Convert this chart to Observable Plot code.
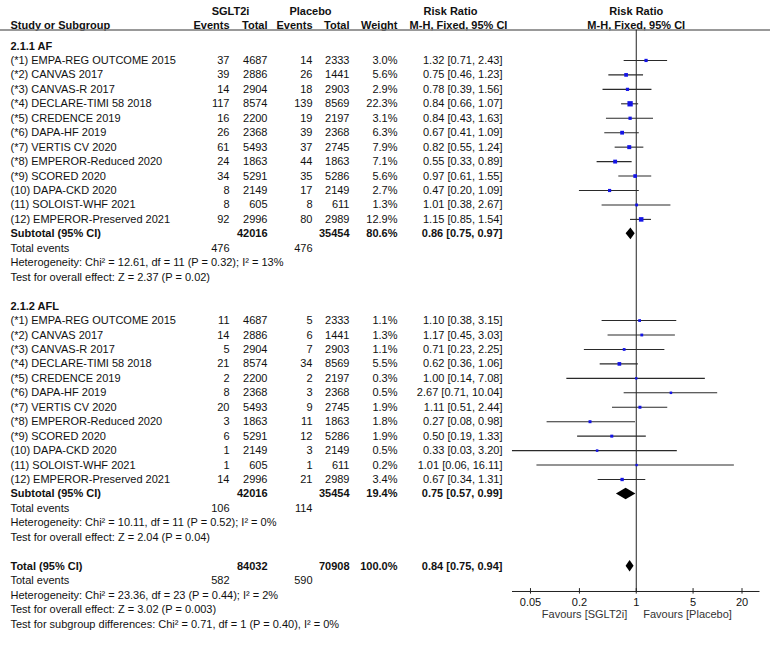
<!DOCTYPE html>
<html><head><meta charset="utf-8">
<script src="https://cdn.jsdelivr.net/npm/d3@7"></script>
<script src="https://cdn.jsdelivr.net/npm/@observablehq/plot@0.6"></script>
<style>body{margin:0;background:#fff} #chart svg{display:block}</style>
</head><body><div id="chart"></div>
<script>
// ---------- data ----------
const studyNames = ["(*1) EMPA-REG OUTCOME 2015","(*2) CANVAS 2017","(*3) CANVAS-R 2017","(*4) DECLARE-TIMI 58 2018","(*5) CREDENCE 2019","(*6) DAPA-HF 2019","(*7) VERTIS CV 2020","(*8) EMPEROR-Reduced 2020","(*9) SCORED 2020","(10) DAPA-CKD 2020","(11) SOLOIST-WHF 2021","(12) EMPEROR-Preserved 2021"];
const sgltTotals = [4687,2886,2904,8574,2200,2368,5493,1863,5291,2149,605,2996];
const placeboTotals = [2333,1441,2903,8569,2197,2368,2745,1863,5286,2149,611,2989];

const afSgltEvents = [37,39,14,117,16,26,61,24,34,8,8,92];
const afPlaceboEvents = [14,26,18,139,19,39,37,44,35,17,8,80];
const afWeights = [3.0,5.6,2.9,22.3,3.1,6.3,7.9,7.1,5.6,2.7,1.3,12.9];
const afRR = [1.32,0.75,0.78,0.84,0.84,0.67,0.82,0.55,0.97,0.47,1.01,1.15];
const afLo = [0.71,0.46,0.39,0.66,0.43,0.41,0.55,0.33,0.61,0.20,0.38,0.85];
const afHi = [2.43,1.23,1.56,1.07,1.63,1.09,1.24,0.89,1.55,1.09,2.67,1.54];

const aflSgltEvents = [11,14,5,21,2,8,20,3,6,1,1,14];
const aflPlaceboEvents = [5,6,7,34,2,3,9,11,12,3,1,21];
const aflWeights = [1.1,1.3,1.1,5.5,0.3,0.5,1.9,1.8,1.9,0.5,0.2,3.4];
const aflRR = [1.10,1.17,0.71,0.62,1.00,2.67,1.11,0.27,0.50,0.33,1.01,0.67];
const aflLo = [0.38,0.45,0.23,0.36,0.14,0.71,0.51,0.08,0.19,0.03,0.06,0.34];
const aflHi = [3.15,3.03,2.25,1.06,7.08,10.04,2.44,0.98,1.33,3.20,16.11,1.31];

const summaryLabels = ["Subtotal (95% CI)","Subtotal (95% CI)","Total (95% CI)"];
const summarySgltTotals = [42016,42016,84032];
const summaryPlaceboTotals = [35454,35454,70908];
const summaryWeights = [80.6,19.4,100.0];
const summaryRR = [0.86,0.75,0.84];
const summaryLo = [0.75,0.57,0.75];
const summaryHi = [0.97,0.99,0.94];
const totalEventsSglt = [476,106,582];
const totalEventsPlacebo = [476,114,590];

const groupTitles = ["2.1.1 AF","2.1.2 AFL"];
const heterogeneityTexts = [
  "Heterogeneity: Chi\u00B2 = 12.61, df = 11 (P = 0.32); I\u00B2 = 13%",
  "Heterogeneity: Chi\u00B2 = 10.11, df = 11 (P = 0.52); I\u00B2 = 0%",
  "Heterogeneity: Chi\u00B2 = 23.36, df = 23 (P = 0.44); I\u00B2 = 2%"];
const overallEffectTexts = [
  "Test for overall effect: Z = 2.37 (P = 0.02)",
  "Test for overall effect: Z = 2.04 (P = 0.04)",
  "Test for overall effect: Z = 3.02 (P = 0.003)"];
const subgroupDiffText = "Test for subgroup differences: Chi\u00B2 = 0.71, df = 1 (P = 0.40), I\u00B2 = 0%";
const axisTicks = [0.05, 0.2, 1, 5, 20];
const favoursLeft = "Favours [SGLT2i]";
const favoursRight = "Favours [Placebo]";

// ---------- layout (row indices and column anchors) ----------
const groupStart = [0, 18];       // heading row of each subgroup
const summaryRow = [13, 31, 36];
const col = {study: 10, sEv: 229, sTot: 267, pEv: 312, pTot: 349, w: 397, rr: 502};

// ---------- build tables ----------
const fmtW = w => w.toFixed(1) + "%";
const fmtRR = (e, l, h) => `${e.toFixed(2)} [${l.toFixed(2)}, ${h.toFixed(2)}]`;
function studies(g, sEv, pEv, w, rr, lo, hi) {
  return studyNames.map((name, i) => ({
    r: groupStart[g] + 1 + i, name, sEv: sEv[i], sTot: sgltTotals[i], pEv: pEv[i], pTot: placeboTotals[i],
    w: w[i], rr: rr[i], lo: lo[i], hi: hi[i]
  }));
}
const studyRows = [
  ...studies(0, afSgltEvents, afPlaceboEvents, afWeights, afRR, afLo, afHi),
  ...studies(1, aflSgltEvents, aflPlaceboEvents, aflWeights, aflRR, aflLo, aflHi)
];
const summaries = summaryLabels.map((label, i) => ({
  r: summaryRow[i], label, sTot: summarySgltTotals[i], pTot: summaryPlaceboTotals[i],
  w: summaryWeights[i], rr: summaryRR[i], lo: summaryLo[i], hi: summaryHi[i],
  sEvT: totalEventsSglt[i], pEvT: totalEventsPlacebo[i]
}));
const statLines = [];
summaries.forEach((s, i) => {
  statLines.push({r: s.r + 1, text: "Total events"});
  statLines.push({r: s.r + 2, text: heterogeneityTexts[i]});
  statLines.push({r: s.r + 3, text: overallEffectTexts[i]});
});
statLines.push({r: summaryRow[2] + 4, text: subgroupDiffText});
const headings = groupTitles.map((t, i) => ({r: groupStart[i], text: t}));

const diamondH = 0.4;
const diamondPts = summaries.flatMap((s, i) => [
  {id: i, x: s.lo, y1: s.r, y2: s.r},
  {id: i, x: s.rr, y1: s.r - diamondH, y2: s.r + diamondH},
  {id: i, x: s.hi, y1: s.r, y2: s.r}
]);

// ---------- plot ----------
const FONT = "'Liberation Sans', Arial, Helvetica, sans-serif";
const ink = "#111";
const xDomain = [1 / 33.3, 33.3];
const yHeaderLine = -1.1, yAxis = 37.75;
const str = k => d => String(d[k]);

function column(data, key, x, anchor, opts = {}) {
  return Plot.text(data, {y: "r", text: typeof key === "string" ? str(key) : key, frameAnchor: "left", dx: x,
    textAnchor: anchor, fill: ink, fontSize: 11, ...opts});
}
function label(t, y, x, anchor) {
  return Plot.text([t], {y, frameAnchor: "left", dx: x, textAnchor: anchor, fontWeight: "bold", fill: ink, fontSize: 11});
}

const chart = Plot.plot({
  width: 770, height: 651,
  marginLeft: 0, marginRight: 0, marginTop: 0, marginBottom: 0,
  style: {fontFamily: FONT, fontSize: "11px", background: "#fff", color: ink},
  x: {type: "log", domain: xDomain, range: [512, 759.5], axis: null},
  y: {domain: [0, 40], range: [45.5, 623.5], axis: null},
  r: {type: "sqrt", domain: [0, 22.3], range: [1.15, 3]},
  marks: [
    // header
    label("SGLT2i", -2.42, 230, "middle"),
    label("Placebo", -2.42, 310, "middle"),
    label("Risk Ratio", -2.42, 450, "middle"),
    Plot.text(["Risk Ratio"], {y: -2.42, x: 1, textAnchor: "middle", fontWeight: "bold", fill: ink, fontSize: 11}),
    label("Study or Subgroup", -1.42, col.study, "start"),
    label("Events", -1.42, col.sEv, "end"),
    label("Total", -1.42, col.sTot, "end"),
    label("Events", -1.42, col.pEv, "end"),
    label("Total", -1.42, col.pTot, "end"),
    label("Weight", -1.42, col.w, "end"),
    label("M-H, Fixed, 95% CI", -1.42, 458, "middle"),
    Plot.text(["M-H, Fixed, 95% CI"], {y: -1.42, x: 1, textAnchor: "middle", fontWeight: "bold", fill: ink, fontSize: 11}),
    Plot.ruleY([yHeaderLine], {stroke: "#777", strokeWidth: 1.5}),

    // subgroup headings
    column(headings, "text", col.study, "start", {fontWeight: "bold"}),

    // study rows
    column(studyRows, "name", col.study, "start"),
    column(studyRows, "sEv", col.sEv, "end"),
    column(studyRows, "sTot", col.sTot, "end"),
    column(studyRows, "pEv", col.pEv, "end"),
    column(studyRows, "pTot", col.pTot, "end"),
    column(studyRows, d => fmtW(d.w), col.w, "end"),
    column(studyRows, d => fmtRR(d.rr, d.lo, d.hi), col.rr, "end"),

    // summary rows
    column(summaries, "label", col.study, "start", {fontWeight: "bold"}),
    column(summaries, "sTot", col.sTot, "end", {fontWeight: "bold"}),
    column(summaries, "pTot", col.pTot, "end", {fontWeight: "bold"}),
    column(summaries, d => fmtW(d.w), col.w, "end", {fontWeight: "bold"}),
    column(summaries, d => fmtRR(d.rr, d.lo, d.hi), col.rr, "end", {fontWeight: "bold"}),
    column(summaries.map(s => ({r: s.r + 1, v: s.sEvT})), "v", col.sEv, "end"),
    column(summaries.map(s => ({r: s.r + 1, v: s.pEvT})), "v", col.pEv, "end"),
    column(statLines, "text", col.study, "start"),

    // forest
    Plot.ruleX([1], {y1: yHeaderLine, y2: yAxis, stroke: "#222", strokeWidth: 1}),
    Plot.ruleY(studyRows, {y: "r", x1: "lo", x2: "hi", stroke: "#2a2a2a", strokeWidth: 1.1}),
    Plot.dot(studyRows, {x: "rr", y: "r", r: "w", symbol: "square", fill: "#1414e6", stroke: null}),
    Plot.areaY(diamondPts, {x: "x", y1: "y1", y2: "y2", z: "id", fill: "#000", curve: "linear"}),

    // axis
    Plot.ruleY([yAxis], {x1: xDomain[0], x2: xDomain[1], stroke: "#222", strokeWidth: 1}),
    Plot.ruleX(axisTicks, {x: d => d, y1: yAxis - 0.2, y2: yAxis + 0.18, stroke: "#222", strokeWidth: 1}),
    Plot.text(axisTicks, {x: d => d, y: 38.5, text: d => String(d), fill: ink, fontSize: 11}),
    Plot.text([favoursLeft], {x: 1, y: 39.35, dx: -9, textAnchor: "end", fill: "#333", fontSize: 11}),
    Plot.text([favoursRight], {x: 1, y: 39.35, dx: 7, textAnchor: "start", fill: "#333", fontSize: 11})
  ]
});
document.getElementById("chart").append(chart);
</script>
</body></html>
